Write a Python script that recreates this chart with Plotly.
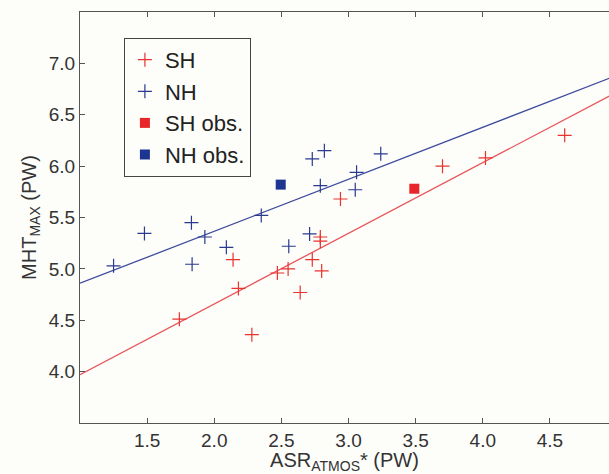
import plotly.graph_objects as go

# ---- data ----
sh_x = [1.74, 2.14, 2.18, 2.28, 2.47, 2.55, 2.64, 2.73, 2.79, 2.79, 2.80, 2.94, 3.70, 4.02, 4.61]
sh_y = [4.51, 5.09, 4.81, 4.36, 4.96, 5.00, 4.77, 5.09, 5.31, 5.27, 4.98, 5.68, 6.00, 6.08, 6.30]

nh_x = [1.25, 1.48, 1.83, 1.835, 1.93, 2.09, 2.35, 2.555, 2.71, 2.73, 2.79, 2.82, 3.05, 3.06, 3.24]
nh_y = [5.03, 5.345, 5.45, 5.045, 5.31, 5.21, 5.52, 5.22, 5.34, 6.07, 5.81, 6.15, 5.77, 5.94, 6.12]

sh_obs_x = [3.49]
sh_obs_y = [5.78]
nh_obs_x = [2.495]
nh_obs_y = [5.82]

# linear fits (slope, intercept)
sh_fit = (0.688, 3.282)
nh_fit = (0.506, 4.354)
fit_x = [1.0, 5.0]

x_ticks = [1.5, 2.0, 2.5, 3.0, 3.5, 4.0, 4.5]
y_ticks = [4.0, 4.5, 5.0, 5.5, 6.0, 6.5, 7.0]

RED = "#e8332e"
BLUE = "#2a3a8f"
RED_LINE = "#e8555a"
BLUE_LINE = "#3d4c9c"
FONT = "Liberation Sans, Arial, sans-serif"

fig = go.Figure()

fig.add_trace(go.Scatter(
    x=fit_x, y=[sh_fit[0] * v + sh_fit[1] for v in fit_x], mode="lines",
    line=dict(color=RED_LINE, width=1.3), showlegend=False, hoverinfo="skip"))
fig.add_trace(go.Scatter(
    x=fit_x, y=[nh_fit[0] * v + nh_fit[1] for v in fit_x], mode="lines",
    line=dict(color=BLUE_LINE, width=1.3), showlegend=False, hoverinfo="skip"))

fig.add_trace(go.Scatter(
    x=sh_x, y=sh_y, mode="markers", name="SH",
    marker=dict(symbol="cross-thin-open", size=10, line=dict(color=RED, width=1.2), color=RED)))
fig.add_trace(go.Scatter(
    x=nh_x, y=nh_y, mode="markers", name="NH",
    marker=dict(symbol="cross-thin-open", size=10, line=dict(color=BLUE, width=1.2), color=BLUE)))
fig.add_trace(go.Scatter(
    x=sh_obs_x, y=sh_obs_y, mode="markers", name="SH obs.",
    marker=dict(symbol="square", size=10, color="#e8262a")))
fig.add_trace(go.Scatter(
    x=nh_obs_x, y=nh_obs_y, mode="markers", name="NH obs.",
    marker=dict(symbol="square", size=10, color="#1c3590")))

axis_common = dict(
    showline=True, linecolor="#555555", linewidth=1.2,
    ticks="inside", ticklen=5, tickcolor="#555555", tickwidth=1,
    showgrid=False, zeroline=False, automargin=False,
    tickfont=dict(family=FONT, size=19, color="#333333"),
    tickformat=".1f",
)

fig.update_xaxes(
    range=[1.0, 4.94], tickvals=x_ticks, mirror="ticks", **axis_common,
    title=dict(text="ASR<sub>ATMOS</sub>* (PW)", standoff=4,
               font=dict(family=FONT, size=20, color="#333333")))
fig.update_yaxes(
    range=[3.5, 7.5], tickvals=y_ticks, mirror=False, **axis_common,
    title=dict(text="MHT<sub>MAX</sub> (PW)", standoff=6,
               font=dict(family=FONT, size=20, color="#333333")))

fig.update_layout(
    width=609, height=474,
    margin=dict(l=80, r=0, t=12, b=51),
    paper_bgcolor="#fdfdfa", plot_bgcolor="#fdfdfa",
    legend=dict(
        x=0.083, y=0.937, xanchor="left", yanchor="top",
        bordercolor="#444444", borderwidth=1, bgcolor="#fdfdfa",
        font=dict(family=FONT, size=22, color="#222222"),
        itemwidth=30,
    ),
)

fig.write_html(
    "out.html",
    config={"displayModeBar": False},
    post_script="document.body.style.margin='0';document.body.style.padding='0';"
                "document.body.style.overflow='hidden';",
)
